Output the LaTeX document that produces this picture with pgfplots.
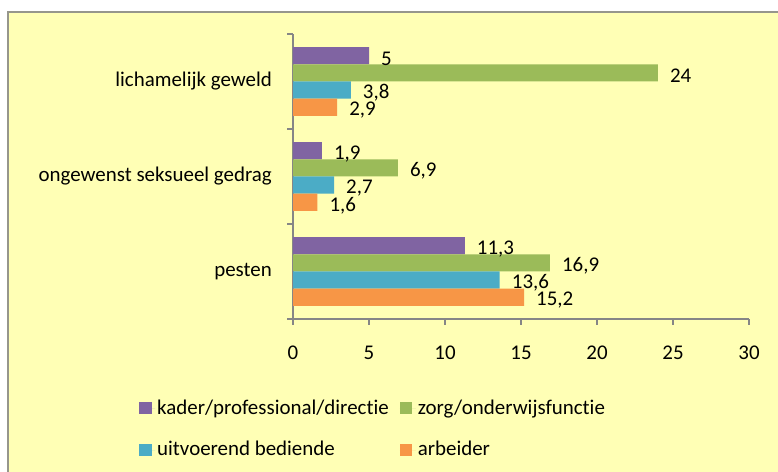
\documentclass[border=0pt]{standalone}
\usepackage{pgfplots}
\pgfplotsset{compat=1.18}
\usepackage{fontspec}
\setmainfont{Carlito}[Ligatures=NoCommon]
\definecolor{bg}{RGB}{255,255,181}
\definecolor{brd}{RGB}{150,150,140}
\definecolor{axc}{RGB}{134,134,134}
\definecolor{cpurple}{RGB}{128,100,162}
\definecolor{cgreen}{RGB}{155,187,89}
\definecolor{cblue}{RGB}{75,172,198}
\definecolor{corange}{RGB}{247,150,70}
\begin{document}
\fontsize{21}{25}\selectfont
\begin{tikzpicture}[x=1bp,y=1bp]
\useasboundingbox (0,0) rectangle (778,472);
\clip (0,0) rectangle (778,472);
\fill[white] (0,0) rectangle (778,472);
\path[fill=bg,draw=brd,line width=1.5bp] (8,-10) rectangle (790,460);
\begin{axis}[
  at={(293bp,153bp)}, anchor=south west,
  scale only axis, width=456bp, height=285bp,
  xbar, bar width=17.2bp,
  xmin=0, xmax=30, ymin=-0.5, ymax=2.5,
  xtick={0,5,...,30},
  ytick={-0.5,0.5,1.5,2.5}, yticklabels={},
  extra y ticks={0,1,2},
  extra y tick labels={pesten,ongewenst seksueel gedrag,lichamelijk geweld},
  extra y tick style={major tick length=0pt, yticklabel style={anchor=east, inner sep=0pt, xshift=-21bp}},
  axis lines*=left,
  axis line style={axc, line width=1.2bp},
  tick style={axc, line width=1.2bp},
  tick align=outside, major tick length=6bp,
  xticklabel style={anchor=center, yshift=-28bp},
  /pgf/number format/assume math mode=true,
  /pgf/number format/use comma,
  /pgf/number format/fixed,
  /pgf/number format/precision=1,
  nodes near coords,
  nodes near coords style={anchor=west, inner sep=0pt, xshift=12bp, yshift=-3bp, black},
  every axis plot/.append style={draw=none},
  legend columns=2,
  legend cell align=left,
  legend image code/.code={\path (0bp,0bp) -- (16bp,0bp); \path[#1,draw=none] (0bp,-6bp) rectangle (12.4bp,6bp);},
  legend style={at={(axis description cs:-0.3377,-0.275)}, anchor=north west, draw=none, fill=none,
    inner sep=0pt, row sep=20bp,
    /tikz/every even column/.append style={column sep=9bp}},
]
\addplot[fill=cpurple, bar shift=25.8bp] coordinates {(11.3,0) (1.9,1) (5,2)};
\addplot[fill=cgreen, bar shift=8.6bp] coordinates {(16.9,0) (6.9,1) (24,2)};
\addplot[fill=cblue, bar shift=-8.6bp] coordinates {(13.6,0) (2.7,1) (3.8,2)};
\addplot[fill=corange, bar shift=-25.8bp] coordinates {(15.2,0) (1.6,1) (2.9,2)};
\legend{kader/professional/directie, zorg/onderwijsfunctie, uitvoerend bediende, arbeider}
\end{axis}
\end{tikzpicture}
\end{document}
